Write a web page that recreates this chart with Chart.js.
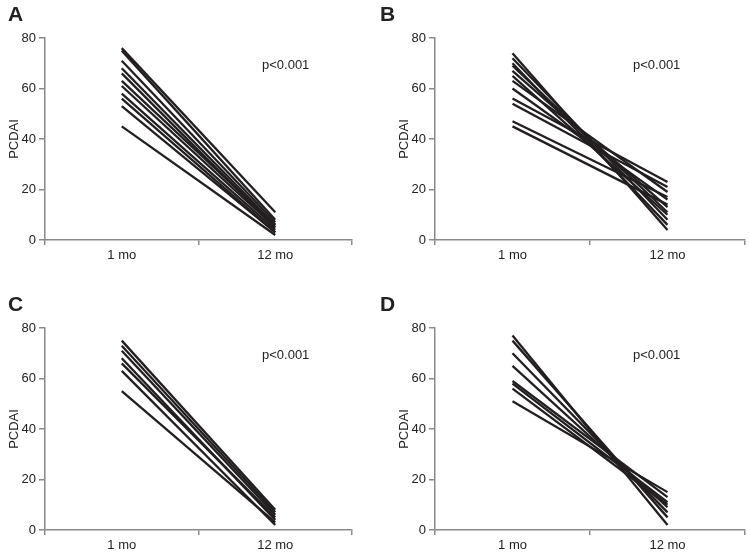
<!DOCTYPE html>
<html>
<head>
<meta charset="utf-8">
<script src="https://cdn.jsdelivr.net/npm/chart.js@4"></script>
<style>
  body { margin: 0; background: #fff; font-family: "Liberation Sans", Arial, sans-serif; }
  #wrap { position: relative; width: 750px; height: 555px; }
  .panel { position: absolute; height: 277px; }
  .letter { position: absolute; font-weight: bold; font-size: 21px; color: #222; }
  .pval { position: absolute; font-size: 13px; color: #222; }
</style>
</head>
<body>
<div id="wrap">
  <div class="panel" style="left:0;top:0;width:375px"><canvas id="chartA"></canvas></div>
  <div class="panel" style="left:390px;top:0;width:360px"><canvas id="chartB"></canvas></div>
  <div class="panel" style="left:0;top:290px;width:375px"><canvas id="chartC"></canvas></div>
  <div class="panel" style="left:390px;top:290px;width:360px"><canvas id="chartD"></canvas></div>
  <div class="letter" style="left:8px;top:2px">A</div>
  <div class="letter" style="left:380px;top:2px">B</div>
  <div class="letter" style="left:8px;top:292px">C</div>
  <div class="letter" style="left:380px;top:292px">D</div>
  <div class="pval" style="left:262px;top:57px">p&lt;0.001</div>
  <div class="pval" style="left:633px;top:57px">p&lt;0.001</div>
  <div class="pval" style="left:262px;top:347px">p&lt;0.001</div>
  <div class="pval" style="left:633px;top:347px">p&lt;0.001</div>
</div>
<script>
var months = ['1 mo', '12 mo'];
var yMin = 0, yMax = 80, yStep = 20;

// PCDAI per patient: value at 1 mo and at 12 mo
var aStart = [76, 75, 71, 68, 66, 63, 61, 58, 56, 53, 45];
var aEnd   = [11, 8, 7, 6, 5, 6, 5, 4, 3, 3, 2];

var bStart = [74, 72, 70, 69, 67, 65, 63, 60, 56, 54, 47, 45];
var bEnd   = [4, 8, 6, 11, 13, 10, 19, 16, 23, 21, 17, 14];

var cStart = [75, 73, 71, 68, 66, 63, 55];
var cEnd   = [8, 7, 6, 4, 5, 2, 3];

var dStart = [77, 75, 70, 65, 59, 58, 56, 51];
var dEnd   = [2, 5, 7, 9, 13, 11, 10, 15];

function makeChart(id, starts, ends, padRight) {
  var datasets = starts.map(function(s, i) {
    return {
      data: [s, ends[i]],
      borderColor: '#231f20',
      borderWidth: 2.3,
      pointRadius: 0,
      fill: false
    };
  });
  var axisGray = '#8a8a8a';
  return new Chart(document.getElementById(id), {
    type: 'line',
    data: { labels: months, datasets: datasets },
    options: {
      responsive: false,
      animation: false,
      layout: { padding: { top: 38, right: padRight, left: 0, bottom: 0 } },
      plugins: { legend: { display: false }, tooltip: { enabled: false } },
      scales: {
        x: {
          offset: true,
          grid: { offset: true, drawOnChartArea: false, tickLength: 5, tickColor: axisGray, lineWidth: 1.5 },
          border: { color: axisGray, width: 1.5 },
          ticks: { color: '#222', font: { size: 13, family: 'Liberation Sans' }, padding: 3 },
          afterFit: function(scale) { scale.height = 37; }
        },
        y: {
          min: yMin, max: yMax,
          grid: { drawOnChartArea: false, tickLength: 6, tickColor: axisGray, lineWidth: 1.5 },
          border: { color: axisGray, width: 1.5 },
          ticks: { stepSize: yStep, color: '#222', font: { size: 13, family: 'Liberation Sans' }, padding: 3 },
          title: { display: true, text: 'PCDAI', color: '#222', font: { size: 13, family: 'Liberation Sans' }, padding: { top: 7, bottom: 2 } },
          afterFit: function(scale) { scale.width = 45; }
        }
      }
    }
  });
}

[['chartA', 375], ['chartB', 360], ['chartC', 375], ['chartD', 360]].forEach(function(p) {
  var c = document.getElementById(p[0]);
  c.width = p[1]; c.height = 277;
});

makeChart('chartA', aStart, aEnd, 23);
makeChart('chartB', bStart, bEnd, 5);
makeChart('chartC', cStart, cEnd, 23);
makeChart('chartD', dStart, dEnd, 5);
</script>
</body>
</html>
